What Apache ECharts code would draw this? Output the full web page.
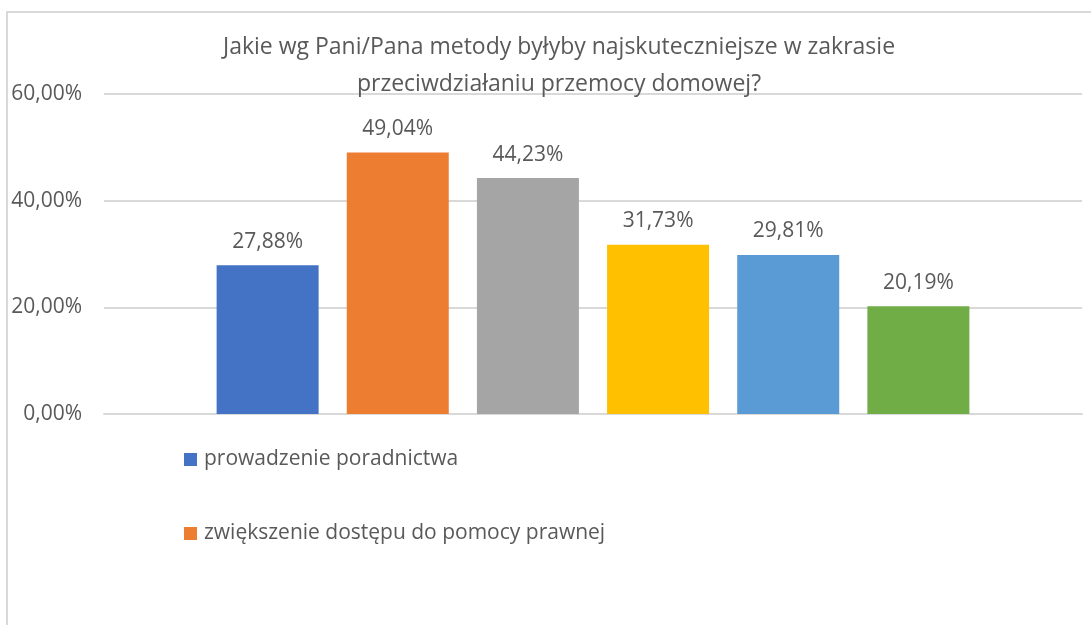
<!DOCTYPE html>
<html>
<head>
<meta charset="utf-8">
<script src="https://cdn.jsdelivr.net/npm/echarts@6/dist/echarts.min.js"></script>
<style>
  html, body { margin: 0; padding: 0; background: #fff; }
  #frame { position: absolute; left: 6px; top: 11px; width: 1200px; height: 700px;
           border-left: 2px solid #d9d9d9; border-top: 2px solid #d9d9d9; }
  #main { position: absolute; left: 0; top: 0; width: 1091px; height: 625px; }
</style>
</head>
<body>
<div id="frame"></div>
<div id="main"></div>
<script>
// dane
const titleText = 'Jakie wg Pani/Pana metody byłyby najskuteczniejsze w zakrasie\nprzeciwdziałaniu przemocy domowej?';
const seriesNames = [
  'prowadzenie poradnictwa',
  'zwiększenie dostępu do pomocy prawnej',
  'metoda 3',
  'metoda 4',
  'metoda 5',
  'metoda 6'
];
const seriesValues = [27.88, 49.04, 44.23, 31.73, 29.81, 20.19];
const seriesColors = ['#4472C4', '#ED7D31', '#A5A5A5', '#FFC000', '#5B9BD5', '#70AD47'];
const visibleLegend = ['prowadzenie poradnictwa', 'zwiększenie dostępu do pomocy prawnej'];

const fmt = v => v.toFixed(2).replace('.', ',') + '%';
const font = '"Open Sans", sans-serif';

const myChart = echarts.init(document.getElementById('main'));

myChart.setOption({
  animation: false,
  title: {
    text: titleText,
    left: 554,
    top: 24,
    textAlign: 'center',
    textStyle: { fontFamily: font, fontSize: 23, fontWeight: 'normal', color: '#595959', lineHeight: 37 }
  },
  legend: {
    data: visibleLegend,
    orient: 'vertical',
    left: 179,
    top: 444,
    itemWidth: 13,
    itemHeight: 13,
    itemGap: 53,
    icon: 'rect',
    textStyle: { fontFamily: font, fontSize: 21, color: '#595959', padding: [0, 0, 0, 2] }
  },
  grid: { left: 104, right: 9, top: 94, bottom: 211 },
  xAxis: {
    type: 'category',
    data: [''],
    axisLine: { lineStyle: { color: '#d9d9d9', width: 2 } },
    axisTick: { show: false },
    axisLabel: { show: false }
  },
  yAxis: {
    type: 'value',
    min: 0,
    max: 60,
    interval: 20,
    axisLine: { show: false },
    axisTick: { show: false },
    splitLine: { lineStyle: { color: '#d9d9d9', width: 2 } },
    axisLabel: {
      formatter: fmt,
      margin: 22,
      fontFamily: font,
      fontSize: 21,
      color: '#595959'
    }
  },
  series: seriesNames.map((name, i) => ({
    name: name,
    type: 'bar',
    data: [seriesValues[i]],
    barWidth: 102,
    barGap: '27.6%',
    itemStyle: { color: seriesColors[i] },
    label: {
      show: true,
      position: 'top',
      distance: 13,
      formatter: p => fmt(p.value),
      fontFamily: font,
      fontSize: 21,
      color: '#595959'
    }
  }))
});
</script>
</body>
</html>
